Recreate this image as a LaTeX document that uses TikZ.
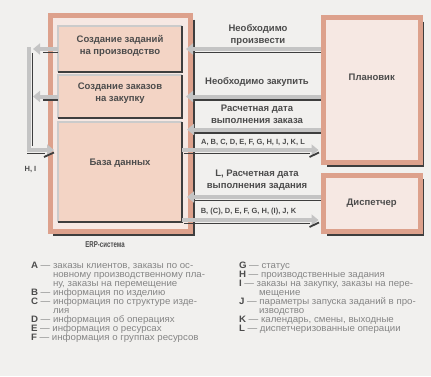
\documentclass[tikz,border=0pt]{standalone}
\usepackage{fontspec}
\setmainfont{Liberation Sans}
\newfontfamily\legfont[FakeStretch=1.04]{Liberation Sans}
\newfontfamily\ercond[FakeStretch=0.72]{Liberation Sans}
\usetikzlibrary{arrows.meta,calc}
\definecolor{bgc}{HTML}{F1F0EE}
\definecolor{salm}{HTML}{DDA18C}
\definecolor{pinkf}{HTML}{F6E8E3}
\definecolor{innerf}{HTML}{F3D4C5}
\definecolor{bandc}{HTML}{C4C4C4}
\definecolor{dkc}{HTML}{3E3E3E}
\definecolor{txtc}{HTML}{4C4C4C}
\definecolor{legc}{HTML}{858585}
\definecolor{lgray}{HTML}{CBCBCB}
\begin{document}
\begin{tikzpicture}[x=1pt,y=-1pt,
  every node/.style={inner sep=0pt,outer sep=0pt},
  outerbox/.style={draw=salm,line width=5pt,fill=pinkf,rectangle},
  ibox/.style={fill=innerf,rectangle},
  band/.style={draw=bandc,line width=4pt},
  arr/.style={band,-{Triangle[length=7pt,width=11pt]}},
  dkl/.style={draw=dkc,line width=1.4pt},
  tick/.style={draw=dkc,line width=1.8pt},
  lbl/.style={font=\fontsize{9.5}{12}\selectfont\bfseries,text=txtc,align=center},
  keys/.style={font=\fontsize{7.5}{9}\selectfont\bfseries,text=txtc},
  leg/.style={font=\legfont\fontsize{9.3}{9}\selectfont,text=legc,anchor=base west}]
\useasboundingbox (0,0) rectangle (431,376);
\fill[bgc] (0,0) rectangle (431,376);

% ERP outer box
\node[outerbox,minimum width=140.5pt,minimum height=216pt] (erp) at (120.25,123.5) {};
\draw[dkl,line width=1.6pt] ($(erp.north east)+(3.5,4)$) -- ($(erp.south east)+(3.5,3.5)$) -- ($(erp.south west)+(3,3.5)$);

% inner boxes
\node[ibox,minimum width=124pt,minimum height=46pt] (t1) at (120,49) {};
\node[ibox,minimum width=124pt,minimum height=43pt] (t2) at (120,96.5) {};
\node[ibox,minimum width=124pt,minimum height=100pt] (db) at (120,172) {};
\foreach \b in {t1,t2,db}{
  \draw[lgray,line width=2pt] (\b.south west) -- (\b.north west) -- (\b.north east);
  \draw[dkc,line width=1.5pt] (\b.north east) -- (\b.south east) -- (\b.south west);
}

% right boxes
\node[outerbox,minimum width=96.5pt,minimum height=145pt] (plan) at (371.75,90) {};
\draw[dkl,line width=1.6pt] ($(plan.north east)+(3.5,4)$) -- ($(plan.south east)+(3.5,3.5)$) -- ($(plan.south west)+(3,3.5)$);
\node[outerbox,minimum width=96.5pt,minimum height=56.5pt] (disp) at (371.75,203.25) {};
\draw[dkl,line width=1.6pt] ($(disp.north east)+(3.5,4)$) -- ($(disp.south east)+(3.5,3.5)$) -- ($(disp.south west)+(3,3.5)$);

% level coordinates
\coordinate (ya3) at (0,129.5);
\coordinate (ya4) at (0,150);
\coordinate (ya5) at (0,197);
\coordinate (ya6) at (0,220);

% arrows Planovik -> ERP
\draw[dkl] ($(plan.west |- t1.east)+(-2.5,3.5)$) -- ($(t1.east)+(12,3.5)$);
\draw[arr] ($(plan.west |- t1.east)+(-2.5,0)$) -- ($(t1.east)+(4,0)$);
\draw[dkl] ($(plan.west |- t2.east)+(-2.5,3.5)$) -- ($(t2.east)+(12,3.5)$);
\draw[arr] ($(plan.west |- t2.east)+(-2.5,0)$) -- ($(t2.east)+(4,0)$);
\draw[dkl] ($(plan.west |- ya3)+(-2.5,3.5)$) -- ($(db.east |- ya3)+(13,3.5)$);
\draw[arr] ($(plan.west |- ya3)+(-2.5,0)$) -- ($(db.east |- ya3)+(5,0)$);
% ERP -> Planovik
\draw[dkl] ($(db.east |- ya4)+(2,3.5)$) -- ($(plan.west |- ya4)+(-14,3.5)$);
\draw[arr] (db.east |- ya4) -- ($(plan.west |- ya4)+(-5,0)$);
\draw[tick] ($(plan.west |- ya4)+(-14,7)$) -- ($(plan.west |- ya4)+(-4.5,2.5)$);
% Dispatcher -> ERP
\draw[dkl] ($(disp.west |- ya5)+(-2.5,3.5)$) -- ($(db.east |- ya5)+(13,3.5)$);
\draw[arr] ($(disp.west |- ya5)+(-2.5,0)$) -- ($(db.east |- ya5)+(5,0)$);
% ERP -> Dispatcher
\draw[dkl] ($(db.east |- ya6)+(2,3.5)$) -- ($(disp.west |- ya6)+(-14,3.5)$);
\draw[arr] (db.east |- ya6) -- ($(disp.west |- ya6)+(-5,0)$);
\draw[tick] ($(disp.west |- ya6)+(-14,7)$) -- ($(disp.west |- ya6)+(-4.5,2.5)$);

% left bus
\coordinate (bt) at (29,47);
\coordinate (bb) at (29,150);
\draw[dkl] ($(bt)+(3.5,6)$) -- ($(bb)+(3.5,-4)$);
\draw[dkl] ($(t1.west)+(0,3.5)$) -- ($(bt |- t1.west)+(14,3.5)$);
\draw[dkl] ($(t2.west)+(0,3.5)$) -- ($(bt |- t2.west)+(14,3.5)$);
\draw[dkl] ($(bb)+(-2,3.5)$) -- ($(db.west |- bb)+(-13,3.5)$);
\draw[arr] (t1.west) -- ($(bt |- t1.west)+(4,0)$);
\draw[arr] (t2.west) -- ($(bt |- t2.west)+(4,0)$);
\draw[arr] (bt) -- (bb) -- ($(db.west |- bb)+(-4,0)$);
\draw[tick] ($(db.west |- bb)+(-14,7)$) -- ($(db.west |- bb)+(-4,2.5)$);

% labels
\node[lbl] (t1l) at ($(t1.center)+(0,-3.5)$) {Создание заданий\\на производство};
\node[lbl] (t2l) at ($(t2.center)+(0,-3.5)$) {Создание заказов\\на закупку};
\node[lbl] (dbl) at ($(db.center)+(0,-9)$) {База данных};
\node[lbl] (planl) at ($(plan.center)+(0,-13)$) {Плановик};
\node[lbl] (displ) at (disp.center) {Диспетчер};
\node[lbl] (l1) at (258,35) {Необходимо\\произвести};
\node[lbl] (l2) at (257,82) {Необходимо закупить};
\node[lbl] (l3) at (257,114) {Расчетная дата\\выполнения заказа};
\node[keys] (l4) at (253,142) {A, B, C, D, E, F, G, H, I, J, K, L};
\node[lbl] (l5) at (257,180) {L, Расчетная дата\\выполнения задания};
\node[keys] (l6) at (248.5,212) {B, (C), D, E, F, G, H, (I), J, K};
\node[keys] (hi) at (30.5,169) {H, I};
\node[font=\ercond\fontsize{8.5}{10}\selectfont\bfseries,text=txtc] (erpl) at (105,245) {ERP-система};

% legend
\node[leg] (ga) at (31,268) {{\color{txtc}\textbf{A}} — заказы клиентов, заказы по ос-};
\node[leg] (ga2) at (53,277) {новному производственному пла-};
\node[leg] (ga3) at (53,286) {ну, заказы на перемещение};
\node[leg] (gb) at (31,295) {{\color{txtc}\textbf{B}} — информация по изделию};
\node[leg] (gc) at (31,304) {{\color{txtc}\textbf{C}} — информация по структуре изде-};
\node[leg] (gc2) at (53,313) {лия};
\node[leg] (gd) at (31,322) {{\color{txtc}\textbf{D}} — информация об операциях};
\node[leg] (ge) at (31,331) {{\color{txtc}\textbf{E}} — информация о ресурсах};
\node[leg] (gf) at (31,340) {{\color{txtc}\textbf{F}} — информация о группах ресурсов};
\node[leg] (gg) at (239,268) {{\color{txtc}\textbf{G}} — статус};
\node[leg] (gh) at (239,277) {{\color{txtc}\textbf{H}} — производственные задания};
\node[leg] (gi) at (239,286) {{\color{txtc}\textbf{I}} — заказы на закупку, заказы на пере-};
\node[leg] (gi2) at (259,295) {мещение};
\node[leg] (gj) at (239,304) {{\color{txtc}\textbf{J}} — параметры запуска заданий в про-};
\node[leg] (gj2) at (259,313) {изводство};
\node[leg] (gk) at (239,322) {{\color{txtc}\textbf{K}} — календарь, смены, выходные};
\node[leg] (gl) at (239,331) {{\color{txtc}\textbf{L}} — диспетчеризованные операции};
\end{tikzpicture}
\end{document}
